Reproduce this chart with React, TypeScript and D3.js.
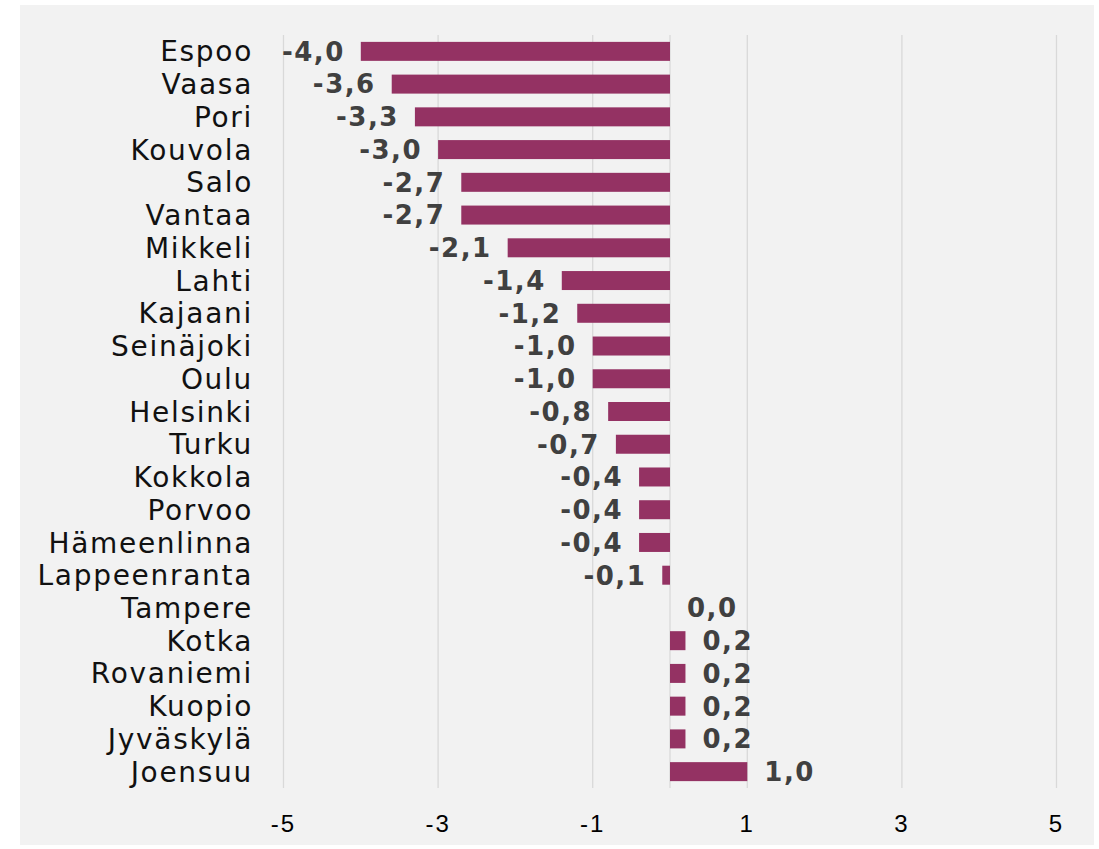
import React from "react";
import * as d3 from "d3";

const cities = ["Espoo","Vaasa","Pori","Kouvola","Salo","Vantaa","Mikkeli","Lahti","Kajaani","Seinäjoki","Oulu","Helsinki","Turku","Kokkola","Porvoo","Hämeenlinna","Lappeenranta","Tampere","Kotka","Rovaniemi","Kuopio","Jyväskylä","Joensuu"];
const values = [-4.0,-3.6,-3.3,-3.0,-2.7,-2.7,-2.1,-1.4,-1.2,-1.0,-1.0,-0.8,-0.7,-0.4,-0.4,-0.4,-0.1,0.0,0.2,0.2,0.2,0.2,1.0];
const ticks = [-5,-3,-1,1,3,5];

export default function App() {
  const W = 1099, H = 849;
  const x = d3.scaleLinear().domain([-5, 5]).range([283.5, 1056.5]);
  const y = d3.scaleBand<string>().domain(cities).range([35, 788]).paddingInner(0.42).paddingOuter(0.21);
  const fmt = (v: number) => v.toFixed(1).replace(".", ",");
  return (
    <div style={{ position: "absolute", left: 0, top: 0 }}>
      <svg width={W} height={H} style={{ display: "block" }}>
        <rect x={20} y={5} width={1074} height={840} fill="#f2f2f2" />
        {ticks.map((t) => (
          <line key={"g" + t} x1={x(t)} x2={x(t)} y1={35} y2={788} stroke="#d9d9d9" strokeWidth={1.3} />
        ))}
        <line x1={x(0)} x2={x(0)} y1={35} y2={788} stroke="#d9d9d9" strokeWidth={1.3} />
        {cities.map((c, i) => {
          const v = values[i];
          const y0 = y(c)!;
          const bw = y.bandwidth();
          const cy = y0 + bw / 2;
          return (
            <g key={c}>
              <rect x={Math.min(x(0), x(v))} y={y0} width={Math.abs(x(v) - x(0))} height={bw} fill="#943263" />
              <text x={253} y={cy} dy="0.36em" textAnchor="end" fontFamily="DejaVu Sans, sans-serif" fontSize={28} letterSpacing={1.7} fill="#111">{c}</text>
              <text
                x={v < 0 ? x(v) - 16 : x(v) + 17}
                y={cy}
                dy="0.36em"
                textAnchor={v < 0 ? "end" : "start"}
                fontFamily="DejaVu Sans, sans-serif"
                fontWeight={700}
                fontSize={26}
                letterSpacing={1.5}
                fill="#404040"
              >{fmt(v)}</text>
            </g>
          );
        })}
        {ticks.map((t) => (
          <text key={"t" + t} x={x(t)} y={823.5} dy="0.35em" textAnchor="middle" fontFamily="Liberation Sans, Arial, sans-serif" fontSize={24} letterSpacing={2} fill="#000">{t}</text>
        ))}
      </svg>
    </div>
  );
}
